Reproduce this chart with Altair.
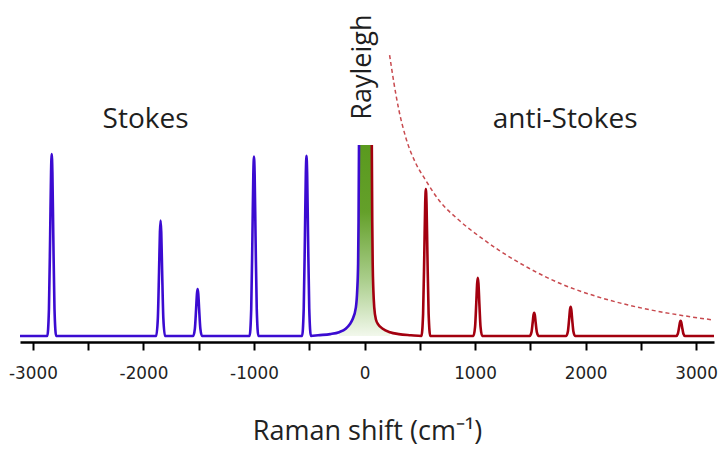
import altair as alt
import pandas as pd

# ---- Stokes spectrum (blue), Raman shift in cm-1 and relative intensity
stokes_x = [-3117, -2870, -2855, -2844, -2836, -2830, -2824, -2816, -2805, -2790,
            -1885, -1870, -1859, -1851, -1845, -1839, -1831, -1820, -1805,
            -1550, -1535, -1524, -1516, -1510, -1504, -1496, -1485, -1470,
            -1040, -1025, -1014, -1006, -1000, -994, -986, -975, -960,
            -565, -550, -539, -531, -525, -519, -511, -500, -485,
            -420, -310, -230, -170, -135, -110, -78, -66, -58, -54, -50]
stokes_y = [0, 0, 0.143, 0.534, 0.858, 0.953, 0.858, 0.534, 0.143, 0,
            0, 0.091, 0.338, 0.544, 0.604, 0.544, 0.338, 0.091, 0,
            0, 0.037, 0.138, 0.221, 0.246, 0.221, 0.138, 0.037, 0,
            0, 0.141, 0.526, 0.845, 0.939, 0.845, 0.526, 0.141, 0,
            0, 0.142, 0.529, 0.850, 0.944, 0.850, 0.529, 0.142, 0,
            0.004, 0.01, 0.02, 0.038, 0.06, 0.085, 0.15, 0.24, 0.38, 0.6, 1.0]

# ---- anti-Stokes spectrum (dark red)
anti_x = [66, 70, 74, 80, 88, 104, 125, 165, 230, 310, 420, 515,
          530, 541, 549, 555, 561, 569, 580, 595,
          985, 1000, 1011, 1019, 1025, 1031, 1039, 1050, 1065,
          1495, 1510, 1521, 1529, 1535, 1541, 1549, 1560, 1575,
          1825, 1840, 1851, 1859, 1865, 1871, 1879, 1890, 1905,
          2820, 2835, 2846, 2854, 2860, 2866, 2874, 2885, 2900, 3162]
anti_y = [1.0, 0.6, 0.38, 0.24, 0.15, 0.085, 0.06, 0.038, 0.02, 0.01, 0.004, 0,
          0.116, 0.431, 0.693, 0.77, 0.693, 0.431, 0.116, 0,
          0, 0.046, 0.171, 0.275, 0.305, 0.275, 0.171, 0.046, 0,
          0, 0.018, 0.068, 0.11, 0.122, 0.11, 0.068, 0.018, 0,
          0, 0.023, 0.086, 0.138, 0.153, 0.138, 0.086, 0.023, 0,
          0, 0.012, 0.045, 0.072, 0.08, 0.072, 0.045, 0.012, 0, 0]

# ---- Rayleigh band (green fill)
rayleigh_x = [-230, -170, -135, -110, -78, -66, -58, -54, -50,
              66, 70, 74, 80, 88, 104, 125, 165, 230]
rayleigh_y = [0.02, 0.038, 0.06, 0.085, 0.15, 0.24, 0.38, 0.6, 1.0,
              1.0, 0.6, 0.38, 0.24, 0.15, 0.085, 0.06, 0.038, 0.02]

# ---- dashed envelope curve
env_x = [227, 266, 311, 372, 462, 552, 672, 853, 1033, 1214, 1484, 1782,
         2089, 2387, 2685, 2901, 3154]
env_y = [1.471, 1.325, 1.183, 1.042, 0.906, 0.817, 0.712, 0.607, 0.524, 0.450,
         0.356, 0.272, 0.209, 0.162, 0.126, 0.105, 0.084]

# ---- annotations
label_text = ["Stokes", "anti-Stokes"]
label_x = [-1981, 1815]
label_y = [1.09, 1.087]
ray_text = ["Rayleigh"]
ray_x = [56]
ray_y = [1.408]

tick_values = list(range(-3000, 3001, 500))

xscale = alt.Scale(domain=[-3117, 3162], nice=False, zero=False)
yscale = alt.Scale(domain=[-0.0314, 1.7068], nice=False, zero=False)

xaxis = alt.Axis(
    values=tick_values,
    labelExpr="datum.value % 1000 == 0 ? (datum.value < 0 ? '-' + abs(datum.value) : '' + datum.value) : ''",
    domainColor="black", domainWidth=2.5,
    tickColor="black", tickWidth=2, tickSize=8,
    labelFont="DejaVu Sans", labelFontSize=16.8, labelColor="#222222",
    labelPadding=15, labelFlush=False, labelOverlap=False,
    grid=False,
    title="Raman shift (cm⁻¹)", titleFont="Open Sans", titleFontSize=27,
    titleFontWeight="normal", titleColor="#222222", titlePadding=37,
)

df_s = pd.DataFrame({"x": stokes_x, "y": stokes_y})
df_a = pd.DataFrame({"x": anti_x, "y": anti_y})
df_r = pd.DataFrame({"x": rayleigh_x, "y": rayleigh_y})
df_e = pd.DataFrame({"x": env_x, "y": env_y})
df_t = pd.DataFrame({"t": label_text, "x": label_x, "y": label_y})
df_rt = pd.DataFrame({"t": ray_text, "x": ray_x, "y": ray_y})

X = alt.X("x:Q", scale=xscale, axis=xaxis)
Y = alt.Y("y:Q", scale=yscale, axis=None)

green = alt.Gradient(
    gradient="linear",
    stops=[alt.GradientStop(color="#5a9a1e", offset=0),
           alt.GradientStop(color="#64a02a", offset=0.35),
           alt.GradientStop(color="#a9cd8a", offset=0.7),
           alt.GradientStop(color="#f2f8ec", offset=1)],
    x1=0, x2=0, y1=0, y2=1,
)

area = alt.Chart(df_r).mark_area(color=green, interpolate="monotone").encode(x=X, y=Y)
blue = alt.Chart(df_s).mark_line(color="#3b0bd1", strokeWidth=2.6, interpolate="monotone").encode(x=X, y=Y)
red = alt.Chart(df_a).mark_line(color="#a3000f", strokeWidth=2.6, interpolate="monotone").encode(x=X, y=Y)
env = alt.Chart(df_e).mark_line(color="#c84a4f", strokeWidth=1.5, strokeDash=[4, 3],
                                interpolate="monotone").encode(x=X, y=Y)
txt = alt.Chart(df_t).mark_text(font="Open Sans", fontSize=28, color="#1e1e1e",
                                align="center", baseline="alphabetic").encode(x=X, y=Y, text="t:N")
rtxt = alt.Chart(df_rt).mark_text(font="Open Sans", fontSize=27, color="#1e1e1e", angle=270,
                                  align="center", baseline="alphabetic").encode(x=X, y=Y, text="t:N")

chart = alt.layer(area, blue, red, env, txt, rtxt).properties(
    width=694, height=332,
    autosize=alt.AutoSizeParams(type="none"),
    padding={"left": 12, "top": 2, "right": 4, "bottom": 105},
).configure_view(stroke=None)

chart.save("out.html", embed_options={"renderer": "svg", "actions": False})
